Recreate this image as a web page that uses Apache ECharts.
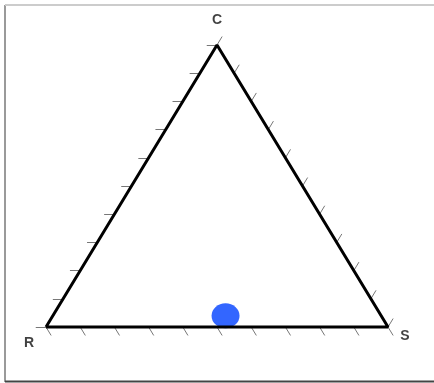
<!DOCTYPE html>
<html>
<head>
<meta charset="utf-8">
<script src="https://cdn.jsdelivr.net/npm/echarts@6/dist/echarts.min.js"></script>
<style>
  html, body { margin: 0; padding: 0; background: #fff; }
  #chart { width: 434px; height: 383px; }
</style>
</head>
<body>
<div id="chart"></div>
<script>
// ternary corners, in the order R, S, C
var cornerNames = ['R', 'S', 'C'];
var tickValues = [0, 0.1, 0.2, 0.3, 0.4, 0.5, 0.6, 0.7, 0.8, 0.9, 1];

// the one sample (fractions of R, S, C)
var pointR = [0.455];
var pointS = [0.505];
var pointC = [0.04];

// ternary -> plain x/y on a 0..1 square
function toXY(r, s, c) {
  return [s + c / 2, c];
}

var tickLen = 0.03;

var corners = [toXY(1, 0, 0), toXY(0, 1, 0), toXY(0, 0, 1)];
var frame = [corners[0], corners[1], corners[2], corners[0]];

var ticks = [];
tickValues.forEach(function (t) {
  // R-C edge, ticks pointing left
  var a = toXY(1 - t, 0, t);
  ticks.push({ coords: [a, [a[0] - tickLen, a[1]]] });
  // R-S edge, ticks parallel to C-S
  var b = toXY(1 - t, t, 0);
  ticks.push({ coords: [b, [b[0] + tickLen / 2, b[1] - tickLen]] });
  // S-C edge, ticks parallel to R-C
  var c = toXY(0, 1 - t, t);
  ticks.push({ coords: [c, [c[0] + tickLen / 2, c[1] + tickLen]] });
});

var samples = pointR.map(function (r, i) {
  return toXY(r, pointS[i], pointC[i]);
});

var labelOffsets = { R: [-17, 16], S: [17, 9], C: [0, -25] };
var cornerLabels = cornerNames.map(function (n, i) {
  return {
    value: corners[i],
    label: { show: true, formatter: n, offset: labelOffsets[n] }
  };
});

var chart = echarts.init(document.getElementById('chart'));
chart.setOption({
  animation: false,
  backgroundColor: '#fff',
  grid: { left: 46, right: 46, top: 45, bottom: 56 },
  xAxis: { type: 'value', min: 0, max: 1, show: false },
  yAxis: { type: 'value', min: 0, max: 1, show: false },
  graphic: [
    { type: 'line', shape: { x1: 5, y1: 5, x2: 5, y2: 382 }, style: { stroke: '#9a9a9a', lineWidth: 2 } },
    { type: 'line', shape: { x1: 5, y1: 5, x2: 434, y2: 5 }, style: { stroke: '#cccccc', lineWidth: 2 } },
    { type: 'line', shape: { x1: 5, y1: 381.5, x2: 434, y2: 381.5 }, style: { stroke: '#444', lineWidth: 2 } }
  ],
  series: [
    {
      type: 'lines',
      coordinateSystem: 'cartesian2d',
      data: ticks,
      lineStyle: { color: '#777', width: 1, opacity: 1 },
      silent: true,
      clip: false
    },
    {
      type: 'line',
      data: frame,
      symbol: 'none',
      lineStyle: { color: '#000', width: 3 },
      clip: false,
      silent: true
    },
    {
      type: 'scatter',
      data: cornerLabels,
      symbolSize: 0,
      label: {
        position: 'inside',
        color: '#111',
        fontFamily: 'Liberation Sans, Arial, sans-serif',
        fontWeight: 'bold',
        fontSize: 14
      },
      clip: false,
      silent: true
    },
    {
      type: 'scatter',
      data: samples,
      symbol: 'circle',
      symbolSize: [28, 25],
      symbolOffset: [0, 0],
      itemStyle: { color: '#3366ff', opacity: 1 },
      clip: false
    }
  ]
});
</script>
</body>
</html>
